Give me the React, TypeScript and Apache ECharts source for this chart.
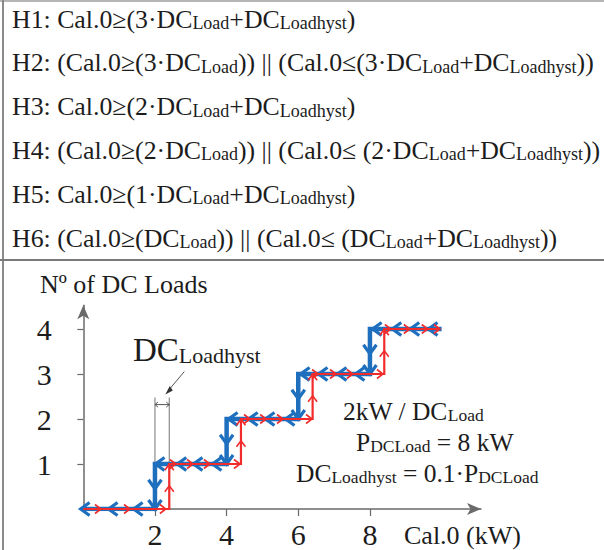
import React, { useEffect, useRef } from "react";
import * as echarts from "echarts";

// ---- data ----
const blueStepX = [0, 2, 2, 4, 4, 6, 6, 8, 8, 10];
const blueStepY = [0, 0, 1, 1, 2, 2, 3, 3, 4, 4];
const redStepX = [0, 2.4, 2.4, 4.4, 4.4, 6.4, 6.4, 8.4, 8.4, 9.9];
const redStepY = [0, 0, 1, 1, 2, 2, 3, 3, 4, 4];

const blueLeftArrows = [
  [0.05, 0], [0.83, 0], [1.53, 0],
  [2.14, 1], [2.75, 1], [3.2, 1], [3.73, 1],
  [4.18, 2], [4.74, 2], [5.21, 2], [5.77, 2],
  [6.19, 3], [6.69, 3], [7.22, 3], [7.72, 3],
  [8.2, 4], [8.75, 4], [9.25, 4], [9.76, 4],
];
const blueDownArrows = [
  [2, 0.55], [2, 0.1], [4, 1.55], [4, 1.1], [6, 2.55], [6, 2.1], [8, 3.55], [8, 3.1],
];
const redRightArrows = [
  [0.41, 0], [1.22, 0], [2.22, 0],
  [2.5, 1], [2.98, 1], [3.45, 1], [4.29, 1],
  [4.57, 2], [5.02, 2], [5.49, 2], [6.3, 2],
  [6.47, 3], [6.97, 3], [7.44, 3], [8.28, 3],
  [8.5, 4], [9.03, 4], [9.53, 4], [9.87, 4],
];
const redUpArrows = [
  [2.4, 0.45], [2.4, 0.93], [4.4, 1.45], [4.4, 1.93], [6.4, 2.45], [6.4, 2.93], [8.4, 3.45], [8.4, 3.93],
];
const xTicks = [2, 4, 6, 8];
const yTicks = [1, 2, 3, 4];
const hysteresis = [[2, 2.4, 2.48, 2.32]]; // [xStart, xEnd, yTop, yDimension]

// formula rows: [text, isSubscript]
const formulaRows: [string, number][][] = [
  [["H1: Cal.0≥(3·DC", 0], ["Load", 1], ["+DC", 0], ["Loadhyst", 1], [")", 0]],
  [["H2: (Cal.0≥(3·DC", 0], ["Load", 1], [")) || (Cal.0≤(3·DC", 0], ["Load", 1], ["+DC", 0], ["Loadhyst", 1], ["))", 0]],
  [["H3: Cal.0≥(2·DC", 0], ["Load", 1], ["+DC", 0], ["Loadhyst", 1], [")", 0]],
  [["H4: (Cal.0≥(2·DC", 0], ["Load", 1], [")) || (Cal.0≤ (2·DC", 0], ["Load", 1], ["+DC", 0], ["Loadhyst", 1], ["))", 0]],
  [["H5: Cal.0≥(1·DC", 0], ["Load", 1], ["+DC", 0], ["Loadhyst", 1], [")", 0]],
  [["H6: (Cal.0≥(DC", 0], ["Load", 1], [")) || (Cal.0≤ (DC", 0], ["Load", 1], ["+DC", 0], ["Loadhyst", 1], ["))", 0]],
];
const noteRows: [string, number][][] = [
  [["2kW / DC", 0], ["Load", 1]],
  [["P", 0], ["DCLoad", 1], [" = 8 kW", 0]],
  [["DC", 0], ["Loadhyst", 1], [" = 0.1·P", 0], ["DCLoad", 1]],
];
const hystLabel: [string, number][] = [["DC", 0], ["Loadhyst", 1]];

const FONT = "'Liberation Serif', 'Times New Roman', serif";
const BLUE = "#1f6fbf";
const RED = "#f22b2b";
const AXIS = "#6a6a6a";
const TXT = "#1c1c1c";

function rich(segs: [string, number][]) {
  return segs.map(([t, s]) => `{${s ? "s" : "m"}|${t}}`).join("");
}
function richStyles(main: number, sub: number) {
  return {
    m: { fontSize: main, fontFamily: FONT, lineHeight: Math.round(main * 1.2), verticalAlign: "bottom", fill: TXT, color: TXT },
    s: { fontSize: sub, fontFamily: FONT, lineHeight: Math.round(sub * 0.78), verticalAlign: "bottom", fill: TXT, color: TXT },
  };
}

function chevrons(data: number[][], dir: string, color: string, lw: number, w: number, h: number, z: number) {
  return {
    type: "custom",
    data,
    z,
    clip: false,
    silent: true,
    renderItem: (_p: any, api: any) => {
      const p = api.coord([api.value(0), api.value(1)]);
      const x = p[0], y = p[1];
      let pts: number[][];
      if (dir === "left") pts = [[x + w / 2, y - h / 2], [x - w / 2, y], [x + w / 2, y + h / 2]];
      else if (dir === "right") pts = [[x - w / 2, y - h / 2], [x + w / 2, y], [x - w / 2, y + h / 2]];
      else if (dir === "down") pts = [[x - h / 2, y - w / 2], [x, y + w / 2], [x + h / 2, y - w / 2]];
      else pts = [[x - h / 2, y + w / 2], [x, y - w / 2], [x + h / 2, y + w / 2]];
      return { type: "polyline", shape: { points: pts }, style: { stroke: color, lineWidth: lw, fill: null } };
    },
  };
}

export default function App() {
  const ref = useRef<HTMLDivElement>(null);
  useEffect(() => {
    if (!ref.current) return;
    const chart = echarts.init(ref.current, null, { renderer: "svg" });
    const unitX = 35.83;
    const unitY = 45;
    const xMax = 11.1;
    const yMax = 4.53;

    const graphics: any[] = [];
    // frame
    graphics.push({ type: "line", shape: { x1: 0, y1: 1, x2: 604, y2: 1 }, style: { stroke: "#b5b5b5", lineWidth: 2 } });
    graphics.push({ type: "line", shape: { x1: 3, y1: 0, x2: 3, y2: 550 }, style: { stroke: "#8a8a8a", lineWidth: 2 } });
    graphics.push({ type: "line", shape: { x1: 0, y1: 260, x2: 604, y2: 260 }, style: { stroke: "#7a7a7a", lineWidth: 2 } });
    formulaRows.forEach((row, i) => {
      graphics.push({
        type: "text", x: 12, y: 1 + 43.8 * i,
        style: { text: rich(row), rich: richStyles(25.8, 18), verticalAlign: "top", align: "left", fill: TXT },
      });
    });
    graphics.push({ type: "text", x: 40, y: 271, style: { text: "Nº of DC Loads", font: `26px ${FONT}`, fill: TXT } });
    graphics.push({ type: "text", x: 404, y: 522, style: { text: "Cal.0 (kW)", font: `26px ${FONT}`, fill: TXT } });
    graphics.push({ type: "text", x: 133, y: 326, style: { text: rich(hystLabel), rich: richStyles(33, 22), fill: TXT } });
    const noteX = [343, 356, 296];
    noteRows.forEach((row, i) => {
      graphics.push({ type: "text", x: noteX[i], y: 393 + 31 * i, style: { text: rich(row), rich: richStyles(25.5, 17.5), fill: TXT } });
    });

    const option: any = {
      animation: false,
      grid: { left: 83.3, top: 509 - yMax * unitY, width: xMax * unitX, height: yMax * unitY },
      xAxis: {
        type: "value", min: 0, max: xMax, interval: 2,
        axisLine: { show: true, symbol: ["none", "arrow"], symbolSize: [9, 14], lineStyle: { color: AXIS, width: 1.5 } },
        axisTick: { show: true, customValues: xTicks, length: 7, lineStyle: { color: AXIS, width: 1.2 } },
        axisLabel: {
          fontSize: 30, fontFamily: FONT, color: TXT, margin: 10, showMinLabel: false, showMaxLabel: false,
          formatter: (v: number) => (xTicks.indexOf(v) >= 0 ? String(v) : ""),
        },
        splitLine: { show: false },
      },
      yAxis: {
        type: "value", min: 0, max: yMax, interval: 1,
        axisLine: { show: true, symbol: ["none", "arrow"], symbolSize: [9, 14], lineStyle: { color: AXIS, width: 1.5 } },
        axisTick: { show: true, customValues: yTicks, length: 6, lineStyle: { color: AXIS, width: 1.2 } },
        axisLabel: { show: false },
        splitLine: { show: false },
      },
      series: [
        {
          // y tick labels placed through the y scale
          type: "custom", data: yTicks.map((v) => [0, v]), z: 6, clip: false, silent: true,
          renderItem: (_p: any, api: any) => {
            const p = api.coord([api.value(0), api.value(1)]);
            return {
              type: "text",
              x: p[0] - 39, y: p[1],
              style: { text: String(api.value(1)), font: `30px ${FONT}`, fill: TXT, align: "center", verticalAlign: "middle" },
            };
          },
        },
        {
          type: "custom", data: hysteresis, z: 1, clip: false, silent: true,
          renderItem: (_p: any, api: any) => {
            const a = api.coord([api.value(0), api.value(2)]);
            const b = api.coord([api.value(1), api.value(2)]);
            const a0 = api.coord([api.value(0), 0]);
            const b0 = api.coord([api.value(1), 0]);
            const d = api.coord([api.value(0), api.value(3)])[1];
            const st = { stroke: "#8c8c8c", lineWidth: 1.2, fill: null };
            const dk = { stroke: "#555", lineWidth: 1, fill: null };
            return {
              type: "group",
              children: [
                { type: "line", shape: { x1: a[0], y1: a[1], x2: a0[0], y2: a0[1] }, style: st },
                { type: "line", shape: { x1: b[0], y1: b[1], x2: b0[0], y2: b0[1] }, style: st },
                { type: "line", shape: { x1: a[0], y1: d, x2: b[0], y2: d }, style: dk },
                { type: "polyline", shape: { points: [[a[0] + 3, d - 2.5], [a[0], d], [a[0] + 3, d + 2.5]] }, style: dk },
                { type: "polyline", shape: { points: [[b[0] - 3, d - 2.5], [b[0], d], [b[0] - 3, d + 2.5]] }, style: dk },
                { type: "line", shape: { x1: b[0] + 15, y1: d - 33, x2: b[0] - 1, y2: d - 14 }, style: { stroke: "#555", lineWidth: 1 } },
                { type: "polygon", shape: { points: [[b[0] - 4, d - 10], [b[0] + 0.5, d - 18.5], [b[0] + 3.5, d - 14]] }, style: { fill: "#333" } },
              ],
            };
          },
        },
        {
          type: "line", data: blueStepX.map((x, i) => [x, blueStepY[i]]), symbol: "none", z: 2,
          lineStyle: { color: BLUE, width: 4.5, join: "miter" },
        },
        chevrons(blueLeftArrows, "left", BLUE, 3.2, 9, 13, 3),
        chevrons(blueDownArrows, "down", BLUE, 3.2, 9, 13, 3),
        {
          type: "line", data: redStepX.map((x, i) => [x, redStepY[i]]), symbol: "none", z: 4,
          lineStyle: { color: RED, width: 2.2, join: "miter" },
        },
        chevrons(redRightArrows, "right", RED, 1.6, 6, 9, 5),
        chevrons(redUpArrows, "up", RED, 1.6, 6, 9, 5),
      ],
      graphic: graphics,
    };
    chart.setOption(option);
    return () => chart.dispose();
  }, []);
  return (
    <div
      ref={ref}
      style={{ position: "absolute", left: 0, top: 0, width: 604, height: 550, background: "#fff" }}
    />
  );
}
